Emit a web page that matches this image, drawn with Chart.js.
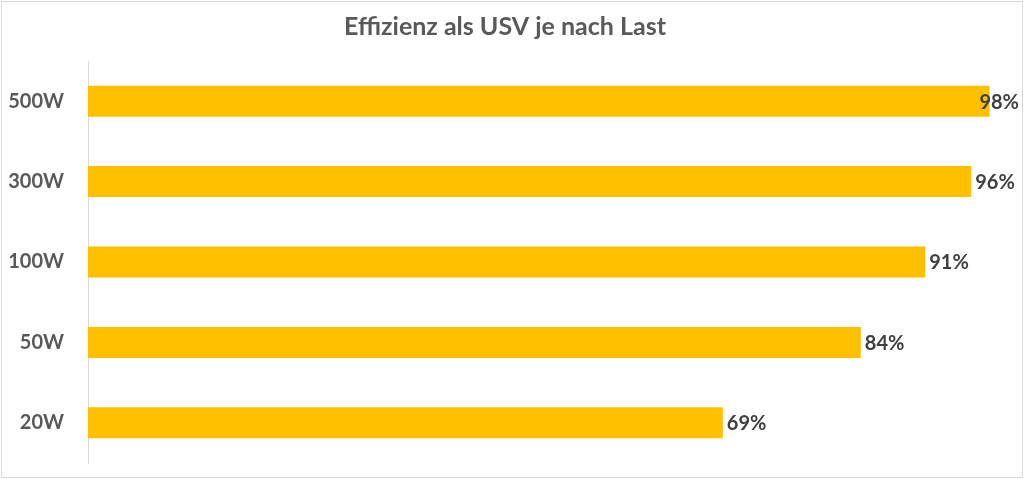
<!DOCTYPE html>
<html>
<head>
<meta charset="utf-8">
<script src="https://cdn.jsdelivr.net/npm/chart.js@4"></script>
<style>
  html, body { margin: 0; padding: 0; background: #fff; }
  #box { position: absolute; left: 1px; top: 1px; width: 1020px; height: 475px; border: 1px solid #d9d9d9; }
  canvas { display: block; }
</style>
</head>
<body>
<div id="box"><canvas id="usv" width="1020" height="475"></canvas></div>
<script>
const loads = ['500W', '300W', '100W', '50W', '20W'];
const efficiency = [0.98, 0.96, 0.91, 0.84, 0.69];
const percentLabels = ['98%', '96%', '91%', '84%', '69%'];

// writes the value after each bar, pushed back inside when it would run off
const barValues = {
    id: 'barValues',
    afterDatasetsDraw(chart) {
        const c = chart.ctx;
        c.save();
        c.font = 'bold 20px Lato';
        c.fillStyle = '#404040';
        c.textBaseline = 'middle';
        chart.getDatasetMeta(0).data.forEach((bar, i) => {
            const w = c.measureText(percentLabels[i]).width;
            const x = Math.min(bar.x + 4, chart.width - 3 - w);
            c.fillText(percentLabels[i], x, bar.y + 1);
        });
        c.restore();
    }
};

const ctx = document.getElementById('usv');
new Chart(ctx, {
    type: 'bar',
    data: {
        labels: loads,
        datasets: [{
            label: 'Effizienz',
            data: efficiency,
            backgroundColor: '#FFC000',
            categoryPercentage: 0.386,
            barPercentage: 1
        }]
    },
    options: {
        indexAxis: 'y',
        responsive: false,
        animation: false,
        layout: { padding: { left: 0, right: 14, top: 0, bottom: 14 } },
        plugins: {
            legend: { display: false },
            tooltip: { enabled: false },
            title: {
                display: true,
                text: 'Effizienz als USV je nach Last',
                color: '#595959',
                font: { family: 'Lato', size: 25, weight: 'bold' },
                padding: { top: 10, bottom: 19 }
            }
        },
        scales: {
            x: { display: false, min: 0, max: 1 },
            y: {
                grid: { display: true, drawOnChartArea: false, drawTicks: true, tickLength: 24, color: 'rgba(0,0,0,0)' },
                border: { display: true, color: '#d9d9d9' },
                ticks: {
                    color: '#595959',
                    font: { family: 'Lato', size: 20, weight: 'bold' },
                    padding: 0
                },
                afterFit(scale) { scale.width = 86; }
            }
        }
    },
    plugins: [barValues]
});
</script>
</body>
</html>
